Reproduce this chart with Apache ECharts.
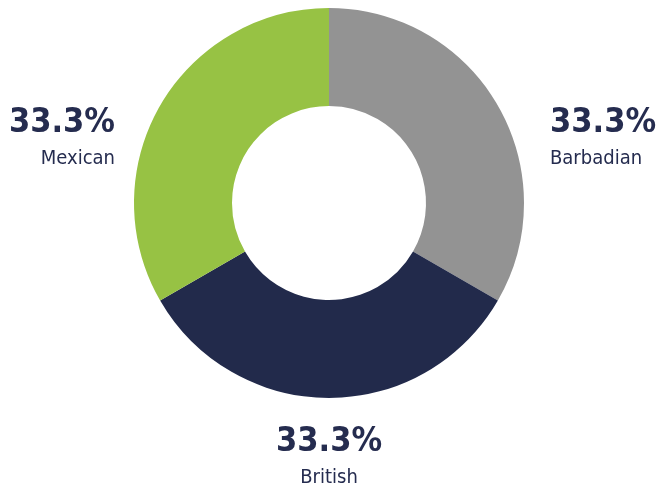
<!DOCTYPE html>
<html><head><meta charset="utf-8">
<script src="https://cdn.jsdelivr.net/npm/echarts@6/dist/echarts.min.js"></script>
<style>html,body{margin:0;padding:0;background:#fff}#c{width:669px;height:495px}</style>
</head><body><div id="c"></div>
<script>
const categories = ['Barbadian', 'British', 'Mexican'];
const values = [33.3, 33.3, 33.3];
const colors = ['#939393', '#222a4b', '#97c244'];
const labelSpots = [
  {x: 550, y: 136, align: 'left'},
  {x: 329, y: 455, align: 'center'},
  {x: 115, y: 136, align: 'right'}
];
const FONT = "'DejaVu Sans Condensed', 'Roboto', sans-serif";
const chart = echarts.init(document.getElementById('c'), null, {renderer: 'canvas'});
chart.setOption({
  animation: false,
  series: [{
    type: 'pie',
    center: [329, 203],
    radius: [97, 195],
    startAngle: 90,
    clockwise: true,
    data: categories.map((n, i) => ({name: n, value: values[i], itemStyle: {color: colors[i]}})),
    label: {
      show: true,
      position: 'outside',
      overflow: 'none',
      formatter: p => '{p|' + p.value.toFixed(1) + '%}\n{n|' + p.name + '}',
      rich: {
        p: {fontFamily: FONT, fontWeight: 'bold', fontSize: 34, lineHeight: 46, color: '#252c4f'},
        n: {fontFamily: FONT, fontSize: 20, lineHeight: 26, color: '#252c4f'}
      }
    },
    labelLine: {show: false},
    labelLayout: function (params) {
      const s = labelSpots[params.dataIndex];
      return {x: s.x, y: s.y, align: s.align, verticalAlign: 'middle'};
    }
  }]
});
</script></body></html>
